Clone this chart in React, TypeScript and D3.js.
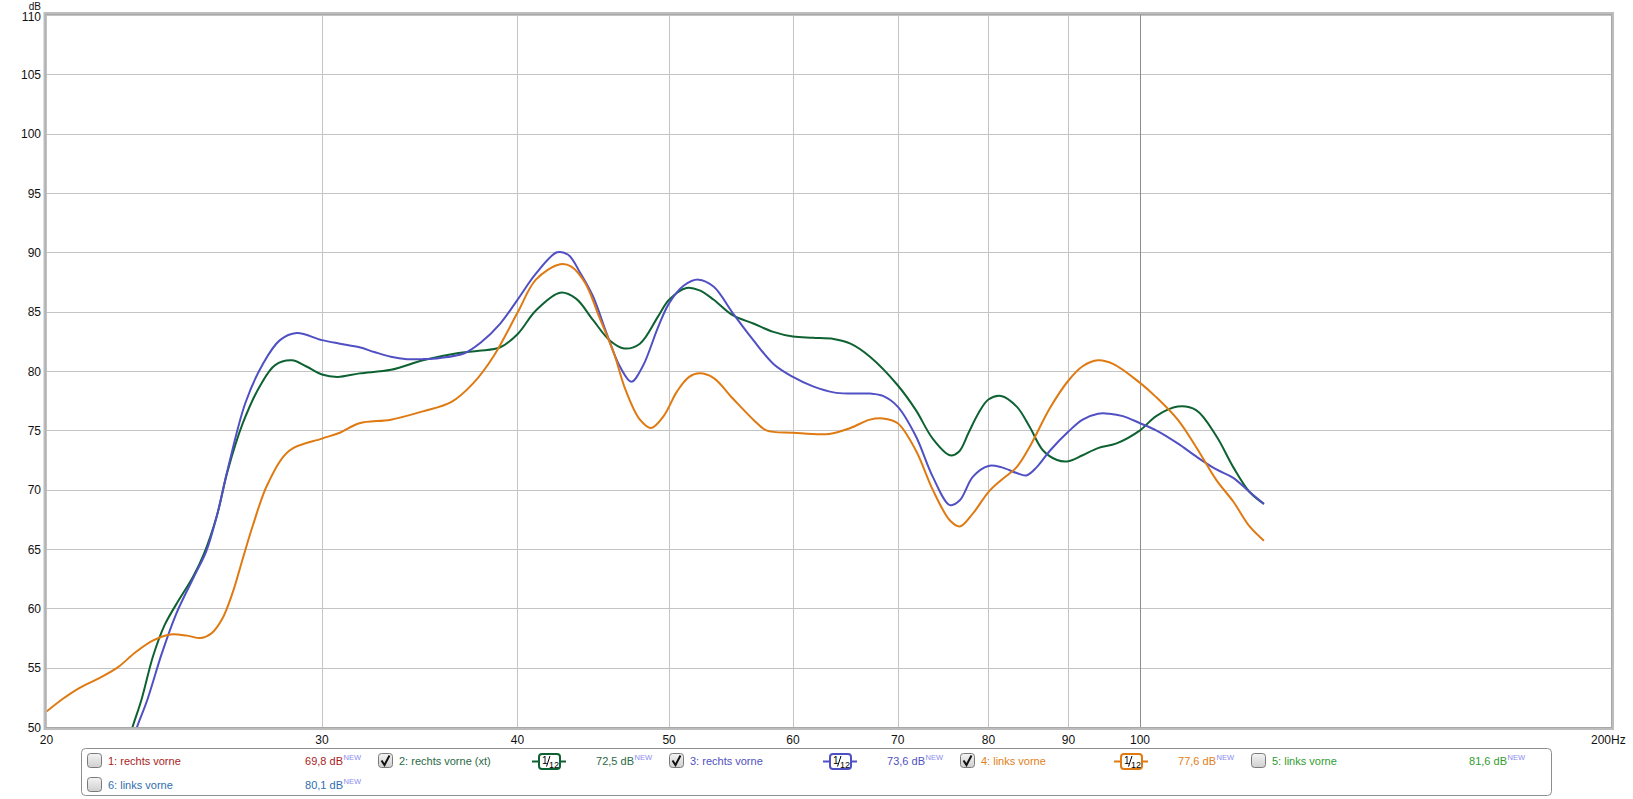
import React from "react";
import * as d3 from "d3";

const W = 1633;
const H = 799;

const yTicks = [50, 55, 60, 65, 70, 75, 80, 85, 90, 95, 100, 105, 110];
const xGrid = [30, 40, 50, 60, 70, 80, 90, 100];
const xLabels = ["20", "30", "40", "50", "60", "70", "80", "90", "100"];
const xLabelFreqs = [20, 30, 40, 50, 60, 70, 80, 90, 100];

const seriesGreen: [number, number][] = [
  [22.5, 48.3], [22.7, 50.0], [23.0, 52.3], [23.4, 56.0], [23.8, 58.6], [24.3, 60.7], [24.8, 62.6],
  [25.2, 64.5], [25.7, 67.8], [26.1, 71.5], [26.7, 75.6], [27.4, 78.8], [28.0, 80.5], [28.7, 80.9], [29.3, 80.4],
  [30.0, 79.7], [30.7, 79.5], [31.7, 79.8], [33.2, 80.1], [34.8, 80.9], [36.6, 81.5], [37.8, 81.7],
  [39.0, 82.0], [40.0, 83.1], [41.1, 85.1], [42.6, 86.6], [43.6, 86.1], [44.7, 84.3], [45.8, 82.6],
  [46.8, 81.9], [47.9, 82.3], [49.2, 84.6], [50.0, 86.0], [51.3, 87.0], [52.3, 86.8], [53.4, 86.0],
  [54.9, 84.7], [56.6, 84.0], [58.3, 83.3], [60.0, 82.9], [61.8, 82.8], [63.7, 82.7], [65.3, 82.3],
  [67.2, 81.2], [70.0, 78.8], [71.9, 76.7], [73.7, 74.3], [75.6, 72.9], [76.6, 73.2], [77.7, 74.8], [78.8, 76.4],
  [80.0, 77.6], [81.5, 77.9], [83.4, 77.0], [85.0, 75.3], [86.7, 73.3], [88.5, 72.5], [90.0, 72.4],
  [91.9, 72.9], [94.0, 73.5], [96.6, 73.9], [100, 75.0], [102.4, 76.2], [105.7, 77.0], [108.6, 76.7],
  [111.9, 74.5], [114.7, 71.9], [117.5, 69.8], [120, 68.8],
];

const seriesBlue: [number, number][] = [
  [22.65, 48.5], [22.85, 50.0], [23.2, 52.3], [23.7, 56.2], [24.2, 59.5], [24.9, 62.9], [25.3, 64.8],
  [25.7, 67.8], [26.1, 71.6], [26.8, 77.3], [27.5, 80.6], [28.2, 82.6], [28.9, 83.2], [30.0, 82.6], [30.8, 82.3],
  [31.7, 82.0], [32.4, 81.6], [33.2, 81.2], [34.0, 81.0], [34.8, 81.0], [35.7, 81.1], [37.0, 81.5],
  [37.9, 82.4], [39.0, 84.0], [40.0, 86.0], [41.1, 88.2], [42.4, 90.0], [43.1, 89.8], [43.9, 88.2],
  [44.7, 86.3], [45.6, 83.2], [46.5, 80.4], [47.3, 79.1], [48.1, 80.4], [49.2, 83.7], [50.0, 85.7],
  [51.1, 87.2], [52.2, 87.7], [53.4, 87.1], [54.9, 84.9], [56.6, 82.6], [58.3, 80.6], [60.0, 79.5],
  [61.8, 78.7], [63.7, 78.2], [65.3, 78.1], [67.2, 78.1], [68.5, 77.9], [70.0, 77.0], [71.9, 74.5],
  [73.7, 71.1], [75.6, 68.7], [76.7, 69.1], [78.2, 71.1], [80.0, 72.0], [81.5, 71.9], [83.4, 71.4],
  [84.6, 71.2], [85.9, 71.9], [87.6, 73.3], [90.0, 74.9], [91.9, 75.9], [94.0, 76.4], [95.6, 76.4],
  [97.5, 76.2], [100, 75.6], [102.4, 75.0], [105.7, 73.9], [108.6, 72.8], [111.9, 71.7], [114.7, 71.0],
  [117.5, 69.8], [120, 68.8],
];

const seriesOrange: [number, number][] = [
  [20.0, 51.3], [20.5, 52.4], [21.0, 53.3], [21.6, 54.1], [22.2, 55.0], [22.8, 56.3], [23.4, 57.3],
  [24.0, 57.8], [24.6, 57.7], [25.1, 57.5], [25.5, 57.9], [25.9, 59.1], [26.3, 61.3], [26.7, 64.2], [27.1, 67.0],
  [27.7, 70.5], [28.6, 73.3], [30.0, 74.3], [30.8, 74.8], [31.7, 75.6], [33.2, 75.9], [34.8, 76.6],
  [36.3, 77.4], [37.5, 79.0], [38.6, 81.2], [40.0, 84.9], [41.1, 87.7], [42.6, 89.0], [43.3, 88.8],
  [44.2, 87.4], [45.1, 84.6], [46.1, 81.5], [46.9, 78.4], [47.9, 75.9], [48.7, 75.2], [49.6, 76.2],
  [50.6, 78.3], [51.5, 79.5], [52.3, 79.8], [53.4, 79.4], [54.9, 77.7], [56.6, 75.9], [57.7, 75.0], [60.0, 74.8],
  [63.3, 74.7], [65.3, 75.2], [67.2, 75.9], [68.5, 76.0], [70.0, 75.6], [71.9, 73.3], [73.7, 70.0],
  [75.6, 67.4], [76.7, 66.9], [78.2, 68.0], [80.0, 69.8], [81.5, 70.8], [83.4, 71.9], [85.0, 73.6],
  [87.6, 76.9], [90.0, 79.2], [91.9, 80.4], [94.0, 80.9], [96.1, 80.6], [100, 79.0], [102.4, 77.8],
  [105.7, 75.9], [108.6, 73.6], [111.9, 70.8], [114.7, 69.0], [117.5, 66.9], [120, 65.7],
];

const legendLabels = ["1: rechts vorne", "2: rechts vorne (xt)", "3: rechts vorne", "4: links vorne", "5: links vorne", "6: links vorne"];
const legendValues = ["69,8 dB", "72,5 dB", "73,6 dB", "77,6 dB", "81,6 dB", "80,1 dB"];
const legendChecked = [false, true, true, true, false, false];
const legendSmoothing = [false, true, true, true, false, false];

const GREEN = "#0e6232";
const BLUE = "#5050c4";
const ORANGE = "#df7a12";
const legendColors = ["#a81c1c", "#2a6a44", "#5050c0", "#e08020", "#2f9c2f", "#2f6db0"];
const lineColors = [null, GREEN, BLUE, ORANGE, null, null];

const FONT = "'Liberation Sans', Arial, sans-serif";

const left = 46.5;
const right = 1611;
const top = 15;
const bottom = 727;

export default function App() {
  const x = d3.scaleLog().domain([20, 200]).range([left, right]);
  const y = d3.scaleLinear().domain([50, 110]).range([bottom, top]);
  const line = d3
    .line<[number, number]>()
    .x((d) => x(d[0]))
    .y((d) => y(d[1]))
    .curve(d3.curveCatmullRom.alpha(0.5));

  const series: { data: [number, number][]; color: string }[] = [
    { data: seriesGreen, color: GREEN },
    { data: seriesBlue, color: BLUE },
    { data: seriesOrange, color: ORANGE },
  ];

  const colStart = 87;
  const colStep = 291;
  const rowY = [761, 785];

  const legendItems = legendLabels.map((lab, i) => {
    const col = i < 5 ? i : 0;
    const row = i < 5 ? 0 : 1;
    const cx = colStart + col * colStep;
    const cy = rowY[row];
    const lc = lineColors[i];
    return (
      <g key={i}>
        <defs>
          <linearGradient id={`cbg${i}`} x1="0" y1="0" x2="0" y2="1">
            <stop offset="0" stopColor="#f4f4f4" />
            <stop offset="1" stopColor="#cfcfcf" />
          </linearGradient>
        </defs>
        <rect x={cx + 0.5} y={cy - 7.5} width={14} height={14} rx={3} fill={`url(#cbg${i})`} stroke="#7a7a7a" strokeWidth={1} />
        {legendChecked[i] && (
          <path d={`M${cx + 3.5},${cy - 0.5} L${cx + 6.5},${cy + 4} L${cx + 11.5},${cy - 5.5}`} fill="none" stroke="#111" strokeWidth={2} />
        )}
        <text x={cx + 21} y={cy + 4} fontSize={11} fontFamily={FONT} fill={legendColors[i]}>
          {lab}
        </text>
        {legendSmoothing[i] && lc && (
          <g>
            <line x1={cx + 154} x2={cx + 188} y1={cy + 0.5} y2={cy + 0.5} stroke={lc} strokeWidth={2} />
            <rect x={cx + 161} y={cy - 7} width={21} height={15} rx={3} fill="#fff" stroke={lc} strokeWidth={2} />
            <text x={cx + 164} y={cy + 2.5} fontSize={10} fontFamily={FONT} fill="#000">1</text>
            <line x1={cx + 168.5} y1={cy + 5.5} x2={cx + 172} y2={cy - 5} stroke="#000" strokeWidth={1} />
            <text x={cx + 171} y={cy + 6.5} fontSize={9} fontFamily={FONT} fill="#000">12</text>
          </g>
        )}
        <text x={cx + 256} y={cy + 4} fontSize={11} fontFamily={FONT} fill={legendColors[i]} textAnchor="end">
          {legendValues[i]}
        </text>
        <text x={cx + 256.5} y={cy - 1} fontSize={7.5} fontFamily={FONT} fill="#8a8af0">
          NEW
        </text>
      </g>
    );
  });

  return (
    <svg width={W} height={H} style={{ position: "absolute", left: 0, top: 0, background: "#fff" }}>
      <defs>
        <clipPath id="plotclip">
          <rect x={left} y={top} width={right - left} height={bottom - top} />
        </clipPath>
      </defs>
      <rect x={0} y={0} width={W} height={H} fill="#fff" />
      {yTicks.map((t) => (
        <line key={`h${t}`} x1={left} x2={right} y1={Math.round(y(t)) + 0.5} y2={Math.round(y(t)) + 0.5} stroke="#c4c4c4" strokeWidth={1} />
      ))}
      {xGrid.map((f) => (
        <line
          key={`v${f}`}
          x1={Math.round(x(f)) + 0.5}
          x2={Math.round(x(f)) + 0.5}
          y1={top}
          y2={bottom}
          stroke={f === 100 ? "#8c8c8c" : "#c4c4c4"}
          strokeWidth={1}
        />
      ))}
      <g clipPath="url(#plotclip)">
        {series.map((s, i) => (
          <path key={i} d={line(s.data) || ""} fill="none" stroke={s.color} strokeWidth={2} strokeLinejoin="round" />
        ))}
      </g>
      <rect x={left - 1.5} y={top - 1.5} width={right - left + 3} height={bottom - top + 3} fill="none" stroke="#bdbdbd" strokeWidth={3} />
      <rect x={left - 0.5} y={top - 0.5} width={right - left + 1} height={bottom - top + 1} fill="none" stroke="#a8a8a8" strokeWidth={1} />
      {yTicks.map((t) => (
        <text key={`yl${t}`} x={41} y={y(t) + (t === 110 ? 5.5 : 4.5)} fontSize={12} fontFamily={FONT} fill="#111" textAnchor="end">
          {t}
        </text>
      ))}
      <text x={41} y={10} fontSize={10} fontFamily={FONT} fill="#111" textAnchor="end">
        dB
      </text>
      {xLabels.map((lab, i) => (
        <text key={`xl${lab}`} x={x(xLabelFreqs[i])} y={744} fontSize={12} fontFamily={FONT} fill="#111" textAnchor="middle">
          {lab}
        </text>
      ))}
      <text x={1591} y={744} fontSize={12} fontFamily={FONT} fill="#111">
        200Hz
      </text>
      <rect x={81.5} y={748.5} width={1470} height={47} rx={4} fill="#fff" stroke="#8e8e8e" strokeWidth={1} />
      {legendItems}
    </svg>
  );
}
